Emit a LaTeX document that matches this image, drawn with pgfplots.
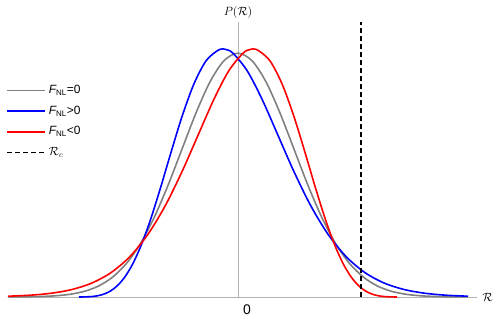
\documentclass[border=0pt]{standalone}
\usepackage{pgfplots}
\pgfplotsset{compat=1.18}
\usepackage{fontspec}
\setmainfont{Liberation Sans}
\begin{document}
\begin{tikzpicture}
\begin{axis}[
 scale only axis, width=469bp, height=275bp,
 xmin=-4.107, xmax=4.268, ymin=0, ymax=0.45,
 axis lines=middle, axis line style={-, draw=black!30, line width=0.8bp},
 xtick=\empty, ytick=\empty, major tick length=0pt,
 xlabel={$\mathcal{R}$}, ylabel={$P(\mathcal{R})$},
 label style={font=\fontsize{12}{14}\selectfont},
 xlabel style={anchor=west, xshift=2bp}, ylabel style={anchor=south},
 legend style={draw=none, fill=none, at={(-0.004,0.777)}, anchor=north west, inner sep=0pt,
   font=\fontsize{12}{14}\selectfont, row sep=6.7bp, column sep=2bp,
   nodes={inner sep=1bp, text height=9bp, text depth=3bp}},
 legend cell align=left,
 legend image code/.code={\draw[#1] (0bp,0bp) -- (38bp,0bp);},
 clip=false,
 every axis plot/.append style={line width=1.6bp},
]
\addplot[color={rgb,255:red,128;green,128;blue,128}, smooth] coordinates {
(-4.1,0.0000893) (-4,0.0001338) (-3.75,0.0003526) (-3.5,0.0008727) (-3.25,0.002029) (-3,0.004432)
(-2.75,0.009093) (-2.5,0.017528) (-2.25,0.031740) (-2,0.053991) (-1.75,0.086277) (-1.5,0.129518)
(-1.25,0.182649) (-1,0.241971) (-0.75,0.301137) (-0.5,0.352065) (-0.25,0.386668) (0,0.398942)
(0.25,0.386668) (0.5,0.352065) (0.75,0.301137) (1,0.241971) (1.25,0.182649) (1.5,0.129518)
(1.75,0.086277) (2,0.053991) (2.25,0.031740) (2.5,0.017528) (2.75,0.009093) (3,0.004432)
(3.25,0.002029) (3.5,0.0008727) (3.75,0.0003526) (4,0.0001338) (4.1,0.0000893)};
\addlegendentry{{\itshape F}\textsubscript{NL}=0}
\addplot[color=blue, smooth] coordinates {
(-2.84,0.0000149) (-2.8094,0.0000347) (-2.7675,0.0000841) (-2.7144,0.000203) (-2.65,0.000478)
(-2.5744,0.001085) (-2.4875,0.002359) (-2.3894,0.004889) (-2.28,0.009635) (-2.1594,0.018006)
(-2.0275,0.031869) (-1.8844,0.053345) (-1.73,0.084361) (-1.5644,0.125952) (-1.3875,0.177422)
(-1.1994,0.235676) (-1,0.295087) (-0.7894,0.348136) (-0.5675,0.386885) (-0.3344,0.404888)
(-0.2136,0.404949) (-0.09,0.398942) (0.1656,0.370017) (0.4325,0.322996) (0.7106,0.265319)
(1,0.205060) (1.3006,0.149101) (1.6125,0.101983) (1.9356,0.065610) (2.27,0.039699)
(2.6156,0.022591) (2.9725,0.012088) (3.3406,0.006082) (3.72,0.002878) (4.1106,0.001280)};
\addlegendentry{{\itshape F}\textsubscript{NL}>0}
\addplot[color=red, smooth] coordinates {
(-4.1106,0.001280) (-3.72,0.002878) (-3.3406,0.006082) (-2.9725,0.012088) (-2.6156,0.022591)
(-2.27,0.039699) (-1.9356,0.065610) (-1.6125,0.101983) (-1.3006,0.149101) (-1,0.205060)
(-0.7106,0.265319) (-0.4325,0.322996) (-0.1656,0.370017) (0.09,0.398942) (0.2136,0.404949)
(0.3344,0.404888) (0.5675,0.386885) (0.7894,0.348136) (1,0.295087) (1.1994,0.235676)
(1.3875,0.177422) (1.5644,0.125952) (1.73,0.084361) (1.8844,0.053345) (2.0275,0.031869)
(2.1594,0.018006) (2.28,0.009635) (2.3894,0.004889) (2.4875,0.002359) (2.5744,0.001085)
(2.65,0.000478) (2.7144,0.000203) (2.7675,0.0000841) (2.8094,0.0000347) (2.84,0.0000149)};
\addlegendentry{{\itshape F}\textsubscript{NL}<0}
\addplot[color=black, dash pattern=on 5bp off 3bp] coordinates {(2.2,0) (2.2,0.45)};
\addlegendentry{$\mathcal{R}_c$}
\node[anchor=north west, inner sep=0pt, font=\fontsize{14}{16}\selectfont] at ([shift={(5bp,-7.5bp)}]axis cs:0,0) {0};
\coordinate (bl) at (rel axis cs:0,0);
\coordinate (tr) at (rel axis cs:1,1);
\end{axis}
\pgfresetboundingbox
\path ([shift={(-8bp,-22bp)}]bl) rectangle ([shift={(21bp,22bp)}]tr);
\end{tikzpicture}
\end{document}
